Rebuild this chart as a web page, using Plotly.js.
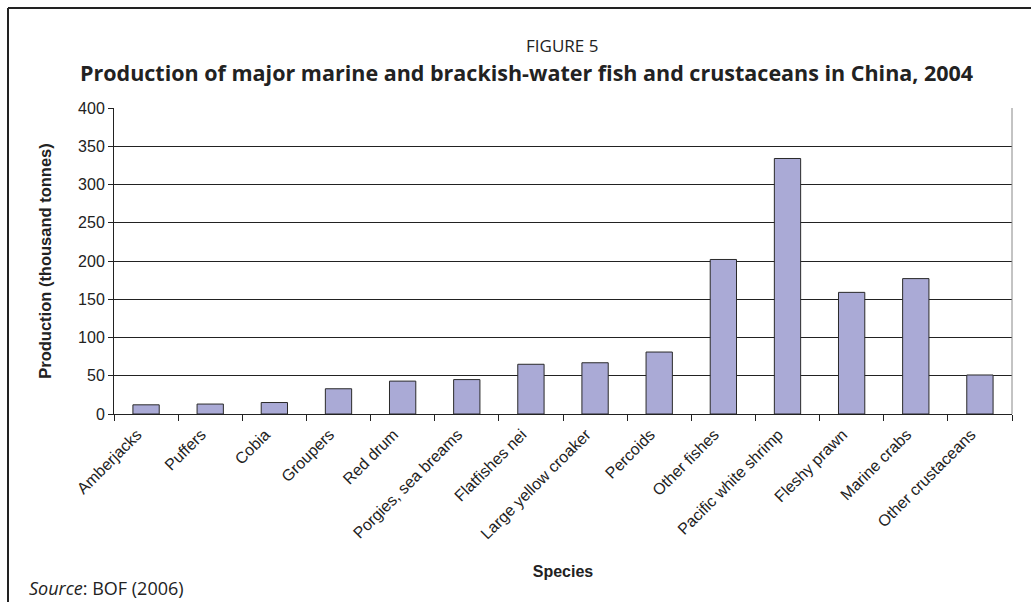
<!DOCTYPE html>
<html>
<head>
<meta charset="utf-8">
<script src="https://cdn.plot.ly/plotly-3.0.1.min.js"></script>
<style>
html,body{margin:0;padding:0;background:#fff;}
#chart{width:1031px;height:602px;}
</style>
</head>
<body>
<div id="chart"></div>
<script>
const species = ["Amberjacks","Puffers","Cobia","Groupers","Red drum","Porgies, sea breams","Flatfishes nei","Large yellow croaker","Percoids","Other fishes","Pacific white shrimp","Fleshy prawn","Marine crabs","Other crustaceans"];
const production = [12, 13, 15, 33, 43, 45, 65, 67, 81, 202, 334, 159, 177, 51];
const yTicks = [0, 50, 100, 150, 200, 250, 300, 350, 400];

const W = 1031, H = 602;
const M = {l: 114, r: 19, t: 108, b: 188};
const PW = W - M.l - M.r, PH = H - M.t - M.b;
const px = x => (x - M.l) / PW;
const py = y => (H - M.b - y) / PH;

const trace = {
  type: 'bar',
  x: species,
  y: production,
  marker: {color: '#aaaad6', line: {color: '#2a2a2a', width: 1}},
  hoverinfo: 'x+y'
};

const layout = {
  width: W, height: H,
  margin: M,
  paper_bgcolor: '#fff', plot_bgcolor: '#fff',
  showlegend: false,
  bargap: 0.59,
  font: {family: 'Liberation Sans, Arial, sans-serif', color: '#222'},
  xaxis: {
    type: 'category',
    tickson: 'boundaries',
    ticks: 'outside', ticklen: 6, tickcolor: '#222', tickwidth: 1,
    showline: true, linecolor: '#222', linewidth: 1,
    tickangle: -45,
    ticklabelshift: -9,
    ticklabelstandoff: 4,
    tickfont: {size: 16, family: 'Liberation Sans, Arial, sans-serif', color: '#222'},
    showgrid: false,
    title: {text: '<b>Species</b>', font: {size: 16, color: '#222'}, standoff: 24}
  },
  yaxis: {
    range: [0, 400],
    tickvals: yTicks,
    ticktext: yTicks.map(String),
    ticks: 'outside', ticklen: 5, tickcolor: '#222',
    showline: true, linecolor: '#222', linewidth: 1,
    showgrid: true, gridcolor: '#222', gridwidth: 1,
    zeroline: false,
    tickfont: {size: 16, color: '#222'},
    title: {text: '<b>Production (thousand tonnes)</b>', font: {size: 16.5, color: '#222'}, standoff: 22}
  },
  shapes: [
    {type: 'line', xref: 'paper', yref: 'paper', x0: 1, x1: 1, y0: 0, y1: 1, line: {color: '#888', width: 1}},
    {type: 'line', xref: 'paper', yref: 'paper', x0: px(8), x1: px(1031), y0: py(8), y1: py(8), line: {color: '#222', width: 2}},
    {type: 'line', xref: 'paper', yref: 'paper', x0: px(8), x1: px(8), y0: py(8), y1: py(602), line: {color: '#222', width: 2}}
  ],
  annotations: [
    {xref: 'paper', yref: 'paper', x: px(562), y: py(45), text: 'FIGURE 5', showarrow: false,
     font: {family: 'Open Sans, sans-serif', size: 17, color: '#222'}, xanchor: 'center', yanchor: 'middle'},
    {xref: 'paper', yref: 'paper', x: px(526), y: py(72), text: '<b>Production of major marine and brackish-water fish and crustaceans in China, 2004</b>', showarrow: false,
     font: {family: 'Open Sans, sans-serif', size: 21.5, color: '#222'}, xanchor: 'center', yanchor: 'middle'},
    {xref: 'paper', yref: 'paper', x: px(27), y: py(588), text: '<i>Source</i>: BOF (2006)', showarrow: false,
     font: {family: 'Open Sans, sans-serif', size: 18, color: '#222'}, xanchor: 'left', yanchor: 'middle'}
  ]
};

Plotly.newPlot('chart', [trace], layout, {displayModeBar: false, staticPlot: true});
</script>
</body>
</html>
